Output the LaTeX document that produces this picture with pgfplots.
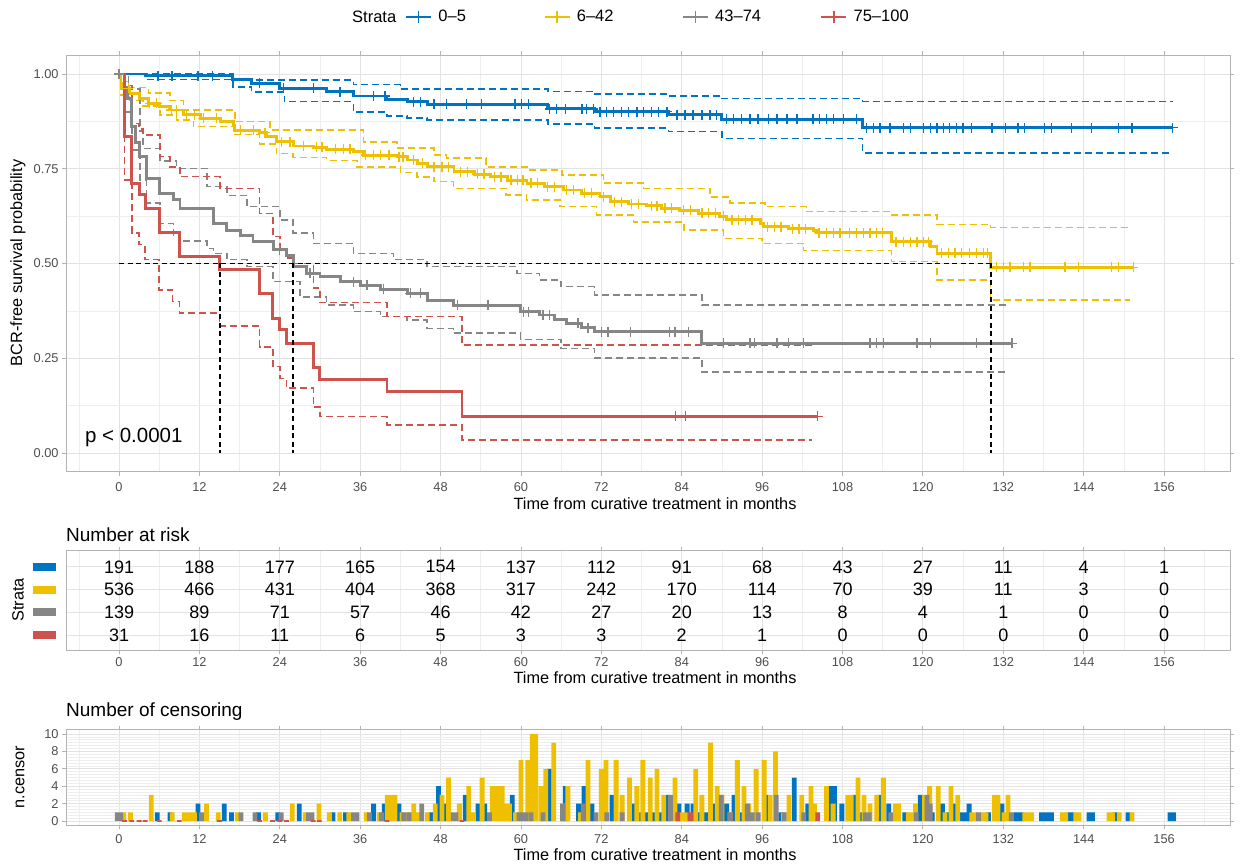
\documentclass[border=0pt]{standalone}
\usepackage{fontspec}
\setmainfont{Liberation Sans}
\usepackage{pgfplots}
\pgfplotsset{compat=1.18}
\usepackage{pgfplotstable}
\definecolor{cblue}{HTML}{0073C2}
\definecolor{cyel}{HTML}{EFC000}
\definecolor{cgray}{HTML}{868686}
\definecolor{cred}{HTML}{CD534C}
\definecolor{gridmaj}{HTML}{E3E3E3}
\definecolor{gridmin}{HTML}{EEEEEE}
\definecolor{bordcol}{HTML}{B3B3B3}
\definecolor{tickcol}{HTML}{4D4D4D}
\newcommand\tickfont{\fontsize{12.8}{15}\selectfont}
\newcommand\labfont{\fontsize{16.3}{19}\selectfont}
\newcommand\legfont{\fontsize{16.5}{19}\selectfont}
\newcommand\numfont{\fontsize{18}{21}\selectfont}
\newcommand\titfont{\fontsize{19}{22}\selectfont}
\newcommand\pfont{\fontsize{20.5}{24}\selectfont}
\newcommand\keybar[1]{\textcolor{#1}{\rule{23pt}{8pt}}}

% ---------- KM step data ----------
\pgfplotstableread{
x y
0 1.0
3.9 0.995
17 0.985
19.8 0.975
24 0.962
31 0.953
35 0.942
40 0.933
43 0.927
46 0.920
64 0.908
71 0.901
82 0.892
90 0.880
111 0.858
157.3 0.858
}\bluekm
\pgfplotstableread{
x y
0 1.0
17 0.984
35 0.972
42 0.960
64 0.954
71 0.947
82 0.942
90 0.935
111 0.928
157.3 0.928
}\blueup
\pgfplotstableread{
x y
0 1.0
3.9 0.986
17 0.966
19.8 0.953
24.7 0.927
35 0.900
40 0.889
43 0.884
46 0.879
64 0.868
71 0.858
82 0.848
90 0.830
111 0.792
157.3 0.792
}\bluelo
\pgfplotstableread{
x y
5.8 0.995
7.9 0.995
11.8 0.995
14 0.995
21 0.975
24.5 0.962
29 0.962
33 0.953
38 0.942
39.7 0.942
44 0.927
45 0.927
47 0.920
48.9 0.920
51.9 0.920
54.1 0.920
59.1 0.920
60.1 0.920
61.1 0.920
64.3 0.908
65.3 0.908
66.6 0.908
69.1 0.908
69.8 0.908
70.8 0.908
71.8 0.901
72.8 0.901
73.8 0.901
75 0.901
76 0.901
77.3 0.901
78.3 0.901
79.5 0.901
80.5 0.901
81.8 0.901
83.3 0.892
84.5 0.892
85.7 0.892
87 0.892
88.2 0.892
89.2 0.892
90.7 0.880
91.7 0.880
92.9 0.880
94.2 0.880
95.4 0.880
96.9 0.880
98.2 0.880
99.7 0.880
101.2 0.880
103.6 0.880
104.6 0.880
105.6 0.880
106.6 0.880
108.1 0.880
110.1 0.880
111.6 0.858
112.6 0.858
113.6 0.858
115.1 0.858
117.1 0.858
118.1 0.858
120.1 0.858
121.1 0.858
122.1 0.858
123.1 0.858
124 0.858
125 0.858
126 0.858
127.3 0.858
130.3 0.858
132.3 0.858
134.2 0.858
135.2 0.858
138.2 0.858
139.2 0.858
142.2 0.858
145.2 0.858
149.2 0.858
151.2 0.858
157.3 0.858
}\bluemk

\pgfplotstableread{
x y
0 1.0
0.3 0.975
0.65 0.962
1.6 0.949
3.1 0.936
4.4 0.923
6.1 0.914
7.6 0.905
9.6 0.892
12.1 0.883
15.1 0.874
17.1 0.865
17.3 0.852
21 0.845
22 0.835
23.5 0.821
26 0.810
29 0.807
31 0.801
35 0.795
36.5 0.786
41.5 0.782
43 0.773
44.5 0.764
46 0.755
50 0.742
53 0.736
55.4 0.729
58 0.720
60.9 0.712
63.5 0.703
66.3 0.694
69 0.685
71.8 0.676
73.3 0.663
76 0.657
78.8 0.652
81 0.646
83.7 0.641
86.5 0.633
89.7 0.625
90.7 0.615
95.7 0.606
96.2 0.597
100 0.592
103.6 0.588
104.1 0.581
115.3 0.558
121.1 0.545
122.1 0.527
130.1 0.490
151.4 0.490
}\yelkm
\pgfplotstableread{
x y
0 1.0
0.65 0.980
1.6 0.965
4.4 0.950
7.6 0.930
9.6 0.905
17.3 0.874
22.5 0.852
36.5 0.821
41.5 0.805
47 0.786
48.9 0.778
54.8 0.755
61.1 0.747
66.1 0.733
72.3 0.712
78.3 0.698
88.2 0.676
91.2 0.659
96.4 0.650
102.6 0.637
115.3 0.628
122.1 0.603
130.1 0.595
151 0.595
}\yelup
\pgfplotstableread{
x y
0 1.0
0.3 0.945
0.65 0.940
1.6 0.930
3.6 0.915
6.1 0.892
8.6 0.878
11.1 0.861
17.1 0.840
21 0.815
23.5 0.790
26 0.780
31 0.772
35.5 0.755
42 0.740
44.5 0.728
47 0.716
49.9 0.698
57.8 0.681
60.8 0.668
65.8 0.650
71.3 0.628
76.8 0.610
84.3 0.588
90.2 0.566
96 0.553
102.2 0.534
115.3 0.505
122.1 0.456
130.1 0.404
150.9 0.404
}\yello
\pgfplotstableread{
x y
1.4 0.962
4.6 0.923
5.6 0.923
7.8 0.905
8.6 0.905
10.1 0.892
11.3 0.892
12.6 0.883
14.6 0.883
18.1 0.852
20.1 0.852
21.8 0.845
24.3 0.821
25.5 0.821
27.5 0.810
29.5 0.807
30.3 0.807
32.3 0.801
33.5 0.801
34.5 0.801
36.8 0.786
38 0.786
39 0.786
40.3 0.786
41.8 0.782
42.4 0.782
44 0.773
45.3 0.764
47 0.755
48.2 0.755
49.2 0.755
51 0.742
52 0.742
53.5 0.736
54.5 0.736
56 0.729
57 0.729
58.5 0.720
59.5 0.720
60.3 0.720
61.5 0.712
62.5 0.712
64 0.703
65 0.703
66.8 0.694
67.8 0.694
69.5 0.685
70.5 0.685
72.3 0.676
74 0.663
75 0.663
76.5 0.657
77.5 0.657
79.5 0.652
80.3 0.652
81.5 0.646
82.5 0.646
84.3 0.641
85.3 0.641
87 0.633
88 0.633
89 0.633
90.2 0.625
91.5 0.615
92.5 0.615
93.5 0.615
94.5 0.615
96.8 0.597
97.8 0.597
98.8 0.597
100.5 0.592
101.5 0.592
102.5 0.592
104.5 0.581
105.6 0.581
106.6 0.581
107.6 0.581
109 0.581
110.1 0.581
111.1 0.581
112.1 0.581
113.1 0.581
114 0.581
116 0.558
117.1 0.558
118.1 0.558
119.1 0.558
120.1 0.558
120.8 0.558
122.8 0.527
123.8 0.527
124.8 0.527
125.8 0.527
127 0.527
128 0.527
129 0.527
129.6 0.527
131 0.490
132 0.490
133 0.490
135 0.490
136 0.490
141.2 0.490
143.2 0.490
148.2 0.490
149.2 0.490
151.4 0.490
}\yelmk

\pgfplotstableread{
x y
0 1.0
0.8 0.964
1.2 0.936
1.9 0.861
2.5 0.820
3.1 0.782
4.1 0.725
6.1 0.685
8.1 0.668
9.1 0.646
14.1 0.606
16.1 0.588
18.1 0.575
20 0.558
23 0.536
25 0.522
26 0.492
28 0.474
30 0.465
33 0.452
36 0.443
39 0.432
43 0.421
46 0.402
49.9 0.390
59.9 0.373
62.8 0.364
65 0.353
66.8 0.342
69 0.331
71 0.320
87 0.289
133.3 0.289
}\graykm
\pgfplotstableread{
x y
0 1.0
1.4 0.960
3.1 0.850
3.6 0.804
6.1 0.770
8.6 0.751
13.1 0.703
16.1 0.680
19.1 0.650
24 0.615
26 0.580
29 0.553
35 0.527
41 0.510
46 0.492
59.4 0.474
62.8 0.456
66 0.439
71 0.417
87 0.390
132.7 0.390
}\grayup
\pgfplotstableread{
x y
0 1.0
0.8 0.90
1.9 0.80
3.1 0.72
4.1 0.66
6.1 0.606
8.1 0.575
9.1 0.560
13.1 0.540
14.1 0.527
16.1 0.510
19.1 0.492
23 0.452
27 0.412
31 0.390
35 0.373
39 0.360
43 0.351
46 0.329
49.9 0.316
59.9 0.300
66 0.276
71 0.250
87 0.214
132.5 0.214
}\graylo
\pgfplotstableread{
x y
0 1.0
24 0.536
28.5 0.474
35 0.452
37 0.443
39.5 0.432
43.5 0.421
45 0.421
50.5 0.390
55.1 0.390
60.4 0.373
61.1 0.373
63.3 0.364
64.3 0.364
68.5 0.342
70 0.331
72 0.320
73 0.320
76.3 0.320
82.2 0.320
83 0.320
85 0.320
90.2 0.289
94.2 0.289
94.9 0.289
98.2 0.289
99.9 0.289
102.2 0.289
112.1 0.289
113.1 0.289
114.1 0.289
119.1 0.289
121.1 0.289
128 0.289
133.3 0.289
}\graymk

\pgfplotstableread{
x y
0 1.0
0.8 0.836
1.9 0.712
3 0.681
3.9 0.646
6 0.581
9 0.518
15 0.485
21 0.421
22.9 0.355
24 0.325
25 0.289
29 0.226
29.9 0.194
40 0.162
51.2 0.097
104.3 0.097
}\redkm
\pgfplotstableread{
x y
0 1.0
0.8 0.97
1.9 0.87
3 0.855
3.6 0.839
6.1 0.782
7.6 0.755
9.1 0.729
15.1 0.698
21 0.632
23 0.571
24 0.540
25 0.514
26 0.500
29 0.435
30 0.397
40 0.360
51.2 0.285
104 0.285
}\redup
\pgfplotstableread{
x y
0 1.0
0.8 0.72
1.9 0.58
3 0.55
3.9 0.51
6 0.43
8 0.40
9 0.369
15 0.335
21 0.280
23 0.228
24 0.197
25 0.171
29 0.122
30 0.096
40 0.074
51.2 0.034
103.5 0.034
}\redlo
\pgfplotstableread{
x y
83.1 0.097
84.6 0.097
104.3 0.097
}\redmk

% ---------- number at risk ----------
\pgfplotstableread{
t r n
0 4 191
12 4 188
24 4 177
36 4 165
48 4 154
60 4 137
72 4 112
84 4 91
96 4 68
108 4 43
120 4 27
132 4 11
144 4 4
156 4 1
0 3 536
12 3 466
24 3 431
36 3 404
48 3 368
60 3 317
72 3 242
84 3 170
96 3 114
108 3 70
120 3 39
132 3 11
144 3 3
156 3 0
0 2 139
12 2 89
24 2 71
36 2 57
48 2 46
60 2 42
72 2 27
84 2 20
96 2 13
108 2 8
120 2 4
132 2 1
144 2 0
156 2 0
0 1 31
12 1 16
24 1 11
36 1 6
48 1 5
60 1 3
72 1 3
84 1 2
96 1 1
108 1 0
120 1 0
132 1 0
144 1 0
156 1 0
}\risktab

% ---------- censoring ----------
\pgfplotstableread{
x y
5.7 1
7.6 1
11.8 2
15.7 2
16.8 1
20.8 1
23.7 1
26.9 2
31.95 1
33.8 1
38 2
39.6 2
41.8 2
46.6 1
47.7 4
48.7 2
51.7 3
53.6 2
54.6 2
58.7 3
64.2 6
66.6 4
68.6 2
69.4 4
70.6 2
73.6 3
76.8 2
77.7 1
78.7 1
79.8 1
80.8 1
81.9 3
83.6 2
84.8 2
85.7 2
86.6 1
87.7 1
88.8 2
90.7 2
91.8 3
92.8 1
96.7 3
98.8 1
100.8 5
102.8 2
106.2 4
106.8 4
107.9 2
109.7 3
110.7 1
113.6 3
114.9 2
117.3 1
119.6 3
121.4 1
122.9 2
123.8 1
124.7 2
125.9 1
126.4 1
126.9 2
129.8 1
131.8 2
133.9 1
134.4 1
134.8 1
137.7 1
138.2 1
138.7 1
139.2 1
141.8 1
142.2 1
144.8 1
145.3 1
148.7 1
150.6 1
156.9 1
157.4 1
}\bluecen
\pgfplotstableread{
x y
0.7 1
1.7 1
4.8 3
7.95 1
9.75 1
10.25 1
10.75 1
11.25 1
13.05 2
14.8 1
17.7 1
21.85 1
25.85 2
27.8 1
29.85 2
31.4 1
32.95 1
34.3 1
36.9 1
38.9 1
40.05 3
40.7 3
41.2 3
42.25 1
43.1 1
44 2
44.6 1
46 1
47.2 2
48.2 3
49.2 5
50.8 2
52.2 4
52.8 1
54.2 5
55.7 4
56.2 4
56.7 4
57.2 4
57.8 2
58.3 2
59.2 1
60 7
61 7
61.7 10
62.2 10
63 4
63.7 6
64.9 9
66.2 2
67 4
68.9 1
70 7
72 6
72.7 7
74.2 7
75.1 3
76.2 5
77.3 4
78.2 7
79.3 5
80.3 6
81.3 3
83 5
84 1
84.5 1
86.1 6
87 3
88.3 9
89.3 4
90 3
91.2 1
92.3 7
93.3 4
94 2
95.1 6
96.3 7
97.2 3
98 8
99.2 1
100 3
101.9 3
103.3 4
103.8 2
105.6 4
106.6 2
108.8 3
109.3 3
110.3 5
111.2 3
112.1 2
113.1 3
114.1 5
115.9 2
116.4 2
117.8 1
118.3 1
118.9 2
120.25 3
121 4
122.3 4
123.3 1
124.2 4
125.2 3
127.3 1
127.8 1
128.9 1
129.4 1
130.7 3
131.2 3
132.1 1
132.7 3
135.2 1
135.7 1
136.2 1
140.8 1
141.3 1
142.8 1
143.3 1
147.8 1
148.3 1
149.3 1
151.2 1
}\yelcen
\pgfplotstableread{
x y
-0.25 1
0.25 1
12.3 1
18.2 1
20.3 1
24.2 1
28.3 1
28.8 1
35 1
35.5 1
37.4 1
39.2 1
42.5 1
43.3 1
45.2 2
49.9 1
50.3 1
55.3 1
59.7 1
60.2 1
60.7 1
61.5 1
63.3 1
66.2 2
69.3 2
71.2 1
72.8 1
75.1 1
82.3 3
89.9 3
91.3 1
93.8 2
94.5 1
95.4 1
98.1 3
99.3 1
102.2 1
111.4 1
112 1
115.2 1
119 1
120.6 3
121.1 2
128.3 1
133.2 1
}\graycen
\pgfplotstableread{
x y
83.4 1
85.3 1
104.3 1
}\redcen
\pgfplotstableread{
x y
0.8 0
1.9 0
3 0
3.9 0
6 0
9 0
15 0
21 0
22.9 0
24 0
25 0
29 0
29.9 0
40 0
51.2 0
}\redzero

\pgfplotsset{
  base/.style={
    scale only axis, width=1164.3pt,
    xmin=-7.9, xmax=165.9,
    xtick={0,12,...,156}, minor xtick={-6,6,...,162},
    grid=both,
    major grid style={draw=gridmaj, line width=0.9pt},
    minor grid style={draw=gridmin, line width=0.6pt},
    axis line style={draw=bordcol, line width=1pt},
    tick style={draw=bordcol, line width=0.9pt},
    tick align=outside, major tick length=4pt, minor tick length=0pt,
    ticklabel style={font=\tickfont, text=tickcol},
    /pgf/number format/assume math mode=true,
  },
  ci/.style={const plot, line width=1.5pt, dash pattern=on 7pt off 4pt, forget plot},
  kmline/.style={const plot, line width=2.9pt, forget plot},
  cmark/.style={only marks, mark=+, mark size=5pt, mark options={line width=1.3pt, solid}, forget plot},
  med/.style={black, line width=1.7pt, dash pattern=on 5pt off 3.5pt, forget plot},
  cbar/.style={ybar, bar width=0.72, bar shift=0pt, draw=none, forget plot},
}

\begin{document}
\begin{tikzpicture}
\useasboundingbox (0pt,0pt) rectangle (1244pt,865pt);

% ================= survival curves =================
\begin{axis}[base,
  at={(66.1pt,393.05pt)}, anchor=south west, height=416.9pt,
  ymin=-0.05, ymax=1.05,
  ytick={0,0.25,0.5,0.75,1}, yticklabels={0.00,0.25,0.50,0.75,1.00},
  minor ytick={0.125,0.375,0.625,0.875},
  xticklabel style={yshift=-3pt},
  clip mode=individual,
  legend columns=4,
  legend style={at={(axis description cs:0.2911,1.0913)}, anchor=west,
    draw=none, fill=none, inner sep=0pt, outer sep=0pt, column sep=0pt,
    font=\legfont, nodes={inner sep=0pt}},
  legend image code/.code={\draw[mark repeat=2, mark phase=2, #1] plot coordinates {(0pt,0pt) (12.5pt,0pt) (25pt,0pt)};},
]
\addlegendimage{cblue, line width=2.4pt, mark=+, mark size=6pt, mark options={line width=1.4pt}}
\addlegendentry{\makebox[111pt][l]{\hspace{6pt}0–5}}
\addlegendimage{cyel, line width=2.4pt, mark=+, mark size=6pt, mark options={line width=1.4pt}}
\addlegendentry{\makebox[111pt][l]{\hspace{6pt}6–42}}
\addlegendimage{cgray, line width=2.4pt, mark=+, mark size=6pt, mark options={line width=1.4pt}}
\addlegendentry{\makebox[111pt][l]{\hspace{6pt}43–74}}
\addlegendimage{cred, line width=2.4pt, mark=+, mark size=6pt, mark options={line width=1.4pt}}
\addlegendentry{\makebox[70pt][l]{\hspace{6pt}75–100}}

\addplot[ci, cblue] table {\blueup};
\addplot[ci, cblue] table {\bluelo};
\addplot[ci, cyel] table {\yelup};
\addplot[ci, cyel] table {\yello};
\addplot[ci, cgray] table {\grayup};
\addplot[ci, cgray] table {\graylo};
\addplot[ci, cred] table {\redup};
\addplot[ci, cred] table {\redlo};

\addplot[kmline, cblue] table {\bluekm};
\addplot[kmline, cyel] table {\yelkm};
\addplot[kmline, cgray] table {\graykm};
\addplot[kmline, cred] table {\redkm};

\addplot[cmark, cblue] table {\bluemk};
\addplot[cmark, cyel] table {\yelmk};
\addplot[cmark, cgray] table {\graymk};
\addplot[cmark, cred] table {\redmk};

\addplot[med] coordinates {(0,0.5) (130.2,0.5)};
\addplot[med] coordinates {(15.1,0.5) (15.1,0)};
\addplot[med] coordinates {(26,0.5) (26,0)};
\addplot[med] coordinates {(130.2,0.5) (130.2,0)};

\node[anchor=west, font=\pfont, inner sep=0pt] at (axis cs:-5.1,0.04) {p < 0.0001};
\end{axis}

\node[anchor=west, font=\legfont, inner sep=0pt] at (352pt,848pt) {Strata};
\node[rotate=90, font=\labfont] at (18pt,602pt) {BCR-free survival probability};
\node[font=\labfont] at (655pt,361pt) {Time from curative treatment in months};

% ================= number at risk =================
\begin{axis}[base,
  at={(66.1pt,215pt)}, anchor=south west, height=99pt,
  ymin=0.34, ymax=4.70,
  ytick={1,2,3,4},
  yticklabels={\keybar{cred},\keybar{cgray},\keybar{cyel},\keybar{cblue}},
  ytick style={draw=none},
  yticklabel style={inner sep=0pt, xshift=-6pt},
]
\addplot[draw=none, mark=none, nodes near coords, point meta=explicit symbolic,
  every node near coord/.append style={font=\numfont, anchor=center, inner sep=0pt, text=black}, forget plot]
  table[x=t, y=r, meta=n] {\risktab};
\end{axis}
\node[anchor=west, font=\titfont, inner sep=0pt] at (66pt,330pt) {Number at risk};
\node[rotate=90, font=\labfont] at (18pt,265pt) {Strata};
\node[font=\labfont] at (655pt,187pt) {Time from curative treatment in months};

% ================= number of censoring =================
\begin{axis}[base,
  at={(66.1pt,39.6pt)}, anchor=south west, height=95.8pt,
  ymin=-0.5, ymax=10.5,
  ytick={0,2,...,10}, minor y tick num=5,
  xticklabel style={yshift=-2pt},
]
\addplot[cbar, fill=cblue] table {\bluecen};
\addplot[cbar, fill=cyel] table {\yelcen};
\addplot[cbar, fill=cgray] table {\graycen};
\addplot[cbar, fill=cred] table {\redcen};
\addplot[cbar, draw=cred, line width=1.4pt] table {\redzero};
\end{axis}
\node[anchor=west, font=\titfont, inner sep=0pt] at (66pt,153pt) {Number of censoring};
\node[rotate=90, font=\labfont] at (20pt,88pt) {n.censor};
\node[font=\labfont] at (655pt,10pt) {Time from curative treatment in months};
\end{tikzpicture}
\end{document}
